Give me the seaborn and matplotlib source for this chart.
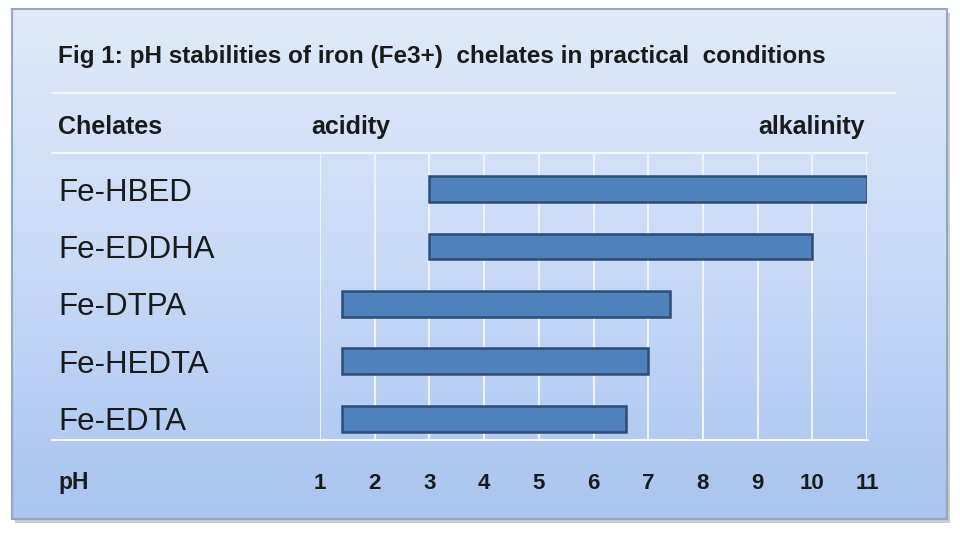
import numpy as np
import matplotlib
matplotlib.use("Agg")
import matplotlib.pyplot as plt
from matplotlib.patches import Rectangle
from matplotlib.lines import Line2D
import seaborn as sns

# data
chelates = ["Fe-HBED", "Fe-EDDHA", "Fe-DTPA", "Fe-HEDTA", "Fe-EDTA"]
ph_low = [3.0, 3.0, 1.4, 1.4, 1.4]
ph_high = [11.0, 10.0, 7.4, 7.0, 6.6]
ph_ticks = [1, 2, 3, 4, 5, 6, 7, 8, 9, 10, 11]

title = "Fig 1: pH stabilities of iron (Fe3+)  chelates in practical  conditions"

sns.set_style("white")
plt.rcParams["font.family"] = ["Liberation Sans", "DejaVu Sans"]

W, H = 960, 535
fig = plt.figure(figsize=(W / 100, H / 100), dpi=100)
fig.patch.set_facecolor("white")


def fx(x):
    return x / W


def fy(y):
    return 1 - y / H


# panel with gradient + shadow
fig.patches.append(Rectangle((fx(15), fy(523)), 935 / W, 510 / H, transform=fig.transFigure,
                             facecolor="#c8cdd4", edgecolor="none", zorder=0))
bg = fig.add_axes([fx(12), fy(519), 935 / W, 510 / H], zorder=1)
grad = np.linspace(0, 1, 256)[:, None]
cmap = matplotlib.colors.LinearSegmentedColormap.from_list("bg", ["#e0eaf9", "#c9daf7", "#a9c4f0"])
bg.imshow(grad, aspect="auto", cmap=cmap, extent=[0, 1, 0, 1], origin="upper")
bg.set_xlim(0, 1)
bg.set_ylim(0, 1)
bg.set_xticks([])
bg.set_yticks([])
for s in bg.spines.values():
    s.set_color("#97a6b9")
    s.set_linewidth(1.5)

# separator lines
for y, x0, x1 in [(93, 52, 895), (153, 52, 868), (440, 52, 868)]:
    fig.add_artist(Line2D([fx(x0), fx(x1)], [fy(y), fy(y)], transform=fig.transFigure,
                          color="#f2f6fd", lw=1.5, zorder=2))

# main axes
ax = fig.add_axes([fx(320), fy(440), 547 / W, 287 / H], zorder=3)
ax.set_facecolor("none")
sns.barplot(x=ph_high, y=chelates, orient="h", color="#4f81bd", edgecolor="#2c4d75",
            linewidth=1.8, width=0.45, saturation=1, ax=ax, zorder=3)
for p, lo, hi in zip(ax.patches, ph_low, ph_high):
    p.set_x(lo)
    p.set_width(hi - lo)

ax.set_xlim(1, 11)
ax.set_ylim(4.37, -0.63)
ax.set_xticks(ph_ticks)
ax.set_xticklabels([str(t) for t in ph_ticks], fontsize=16, fontweight="bold", color="#1a1a1a")
ax.tick_params(axis="x", length=0, pad=24)
ax.tick_params(axis="y", length=0, pad=188.6)
for lab in ax.get_yticklabels():
    lab.set_ha("left")
    lab.set_fontsize(22.5)
    lab.set_color("#1a1a1a")
ax.set_xlabel("")
ax.set_ylabel("")
ax.grid(axis="x", color="#eef3fc", lw=1.5)
ax.set_axisbelow(True)
for s in ax.spines.values():
    s.set_visible(False)

# texts
fig.text(fx(58), fy(57), title, fontsize=17.5, fontweight="bold", color="#1a1a1a",
         ha="left", va="center", zorder=4)
fig.text(fx(58), fy(127), "Chelates", fontsize=18, fontweight="bold", color="#1a1a1a",
         ha="left", va="center", zorder=4)
fig.text(fx(311), fy(127), "acidity", fontsize=18, fontweight="bold", color="#1a1a1a",
         ha="left", va="center", zorder=4)
fig.text(fx(865), fy(127), "alkalinity", fontsize=18, fontweight="bold", color="#1a1a1a",
         ha="right", va="center", zorder=4)
fig.text(fx(58), fy(489), "pH", fontsize=16.5, fontweight="bold", color="#1a1a1a",
         ha="left", va="baseline", zorder=4)

fig.savefig("out.png", dpi=100)
